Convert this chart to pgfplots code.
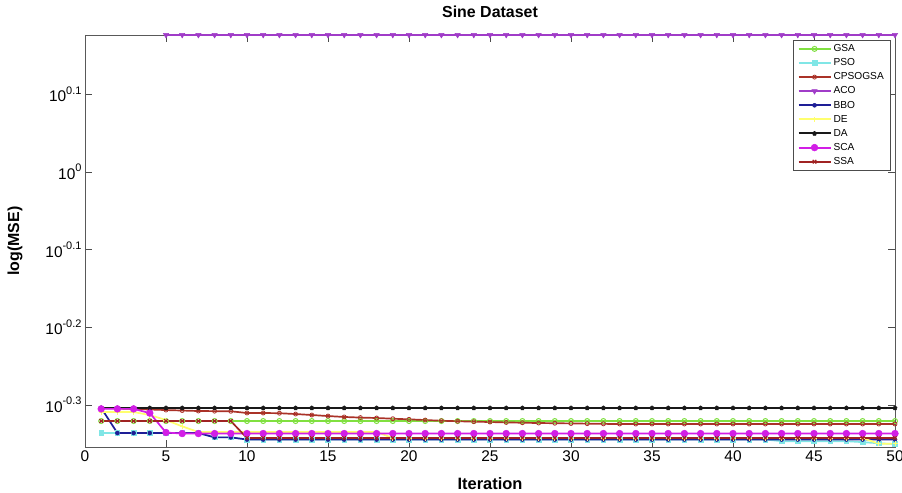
\documentclass[border=0pt]{standalone}
\usepackage{pgfplots}
\pgfplotsset{compat=1.18}
\usepackage{pgfplotstable}
\usepackage{fontspec}
\setmainfont{Liberation Sans}
\definecolor{cGSA}{RGB}{128,224,64}
\definecolor{cPSO}{RGB}{128,230,230}
\definecolor{cCPS}{RGB}{170,50,40}
\definecolor{cACO}{RGB}{160,60,200}
\definecolor{cBBO}{RGB}{30,30,150}
\definecolor{cDE}{RGB}{255,255,110}
\definecolor{cDA}{RGB}{25,25,25}
\definecolor{cSCA}{RGB}{210,30,230}
\definecolor{cSSA}{RGB}{160,35,35}
\newcommand{\ex}[1]{10\raisebox{0.5em}{\fontsize{11}{11}\selectfont #1}}
\pgfplotstableread{
it GSA PSO CPS ACO BBO DE DA SCA SSA
1 0.4780 0.4613 0.4968 nan 0.4968 0.4909 0.4968 0.4955 0.4780
2 0.4780 0.4613 0.4961 nan 0.4613 0.4909 0.4968 0.4955 0.4780
3 0.4780 0.4613 0.4953 nan 0.4613 0.4909 0.4968 0.4955 0.4780
4 0.4780 0.4613 0.4946 nan 0.4613 0.4866 0.4968 0.4894 0.4780
5 0.4780 0.4613 0.4938 1.5 0.4613 0.4794 0.4968 0.4620 0.4780
6 0.4780 0.4613 0.4931 1.5 0.4613 0.4705 0.4968 0.4606 0.4780
7 0.4780 0.4613 0.4924 1.5 0.4613 0.4627 0.4968 0.4606 0.4780
8 0.4780 0.4554 0.4922 1.5 0.4554 0.4627 0.4968 0.4606 0.4780
9 0.4780 0.4554 0.4920 1.5 0.4554 0.4627 0.4968 0.4606 0.4780
10 0.4780 0.4525 0.4895 1.5 0.4525 0.4627 0.4968 0.4606 0.4545
11 0.4780 0.4525 0.4895 1.5 0.4525 0.4627 0.4968 0.4606 0.4545
12 0.4780 0.4525 0.4892 1.5 0.4525 0.4627 0.4968 0.4606 0.4545
13 0.4780 0.4525 0.4880 1.5 0.4525 0.4627 0.4968 0.4606 0.4545
14 0.4780 0.4525 0.4866 1.5 0.4525 0.4627 0.4968 0.4606 0.4545
15 0.4780 0.4525 0.4851 1.5 0.4525 0.4627 0.4968 0.4606 0.4545
16 0.4780 0.4525 0.4838 1.5 0.4525 0.4627 0.4968 0.4606 0.4545
17 0.4780 0.4525 0.4829 1.5 0.4525 0.4627 0.4968 0.4606 0.4545
18 0.4780 0.4525 0.4823 1.5 0.4525 0.4627 0.4968 0.4606 0.4545
19 0.4780 0.4525 0.4813 1.5 0.4525 0.4545 0.4968 0.4606 0.4545
20 0.4780 0.4525 0.4804 1.5 0.4525 0.4545 0.4968 0.4606 0.4545
21 0.4780 0.4525 0.4794 1.5 0.4525 0.4545 0.4968 0.4606 0.4545
22 0.4780 0.4525 0.4784 1.5 0.4525 0.4545 0.4968 0.4606 0.4545
23 0.4780 0.4525 0.4777 1.5 0.4525 0.4545 0.4968 0.4606 0.4545
24 0.4780 0.4525 0.4771 1.5 0.4525 0.4545 0.4968 0.4606 0.4545
25 0.4780 0.4525 0.4766 1.5 0.4525 0.4545 0.4968 0.4606 0.4545
26 0.4780 0.4525 0.4760 1.5 0.4525 0.4545 0.4968 0.4606 0.4545
27 0.4780 0.4525 0.4756 1.5 0.4525 0.4545 0.4968 0.4606 0.4545
28 0.4780 0.4525 0.4752 1.5 0.4525 0.4545 0.4968 0.4606 0.4545
29 0.4780 0.4525 0.4749 1.5 0.4525 0.4545 0.4968 0.4606 0.4545
30 0.4780 0.4525 0.4746 1.5 0.4525 0.4545 0.4968 0.4606 0.4545
31 0.4780 0.4525 0.4743 1.5 0.4525 0.4545 0.4968 0.4606 0.4545
32 0.4780 0.4525 0.4740 1.5 0.4525 0.4545 0.4968 0.4606 0.4545
33 0.4780 0.4525 0.4738 1.5 0.4525 0.4545 0.4968 0.4606 0.4545
34 0.4780 0.4525 0.4738 1.5 0.4525 0.4545 0.4968 0.4606 0.4545
35 0.4780 0.4525 0.4738 1.5 0.4525 0.4545 0.4968 0.4606 0.4545
36 0.4780 0.4525 0.4738 1.5 0.4525 0.4545 0.4968 0.4606 0.4545
37 0.4780 0.4525 0.4738 1.5 0.4525 0.4545 0.4968 0.4606 0.4545
38 0.4780 0.4525 0.4738 1.5 0.4525 0.4545 0.4968 0.4606 0.4545
39 0.4780 0.4525 0.4738 1.5 0.4525 0.4545 0.4968 0.4606 0.4545
40 0.4780 0.4525 0.4738 1.5 0.4525 0.4545 0.4968 0.4606 0.4545
41 0.4780 0.4525 0.4738 1.5 0.4525 0.4545 0.4968 0.4606 0.4545
42 0.4780 0.4525 0.4738 1.5 0.4525 0.4545 0.4968 0.4606 0.4545
43 0.4780 0.4503 0.4738 1.5 0.4525 0.4545 0.4968 0.4606 0.4545
44 0.4780 0.4503 0.4738 1.5 0.4525 0.4545 0.4968 0.4606 0.4545
45 0.4780 0.4503 0.4738 1.5 0.4525 0.4545 0.4968 0.4606 0.4545
46 0.4780 0.4503 0.4738 1.5 0.4525 0.4545 0.4968 0.4606 0.4545
47 0.4780 0.4503 0.4738 1.5 0.4525 0.4545 0.4968 0.4606 0.4545
48 0.4780 0.4490 0.4738 1.5 0.4525 0.4545 0.4968 0.4606 0.4545
49 0.4780 0.4475 0.4738 1.5 0.4525 0.4470 0.4968 0.4606 0.4545
50 0.4780 0.4465 0.4738 1.5 0.4525 0.4470 0.4968 0.4606 0.4545
}\datatable
\begin{document}
\begin{tikzpicture}
\begin{axis}[
  name=ax,
  width=810bp, height=412bp, scale only axis,
  ymode=log,
  xmin=0, xmax=50, ymin=0.4426, ymax=1.5,
  clip=false,
  xtick={0,5,...,50},
  ytick={0.501187,0.630957,0.794328,1,1.258925},
  yticklabels={\ex{-0.3},\ex{-0.2},\ex{-0.1},\ex{0},\ex{0.1}},
  yminorticks=false,
  tick align=inside,
  major tick length=7bp,
  axis line style={draw=black!65, line width=0.6bp},
  every tick/.style={draw=black!70, line width=0.6bp},
  /pgf/number format/assume math mode=true,
  ticklabel style={font=\fontsize{15.5}{15.5}\selectfont},
  title={Sine Dataset},
  title style={font=\bfseries\fontsize{16}{16}\selectfont, at={(axis description cs:0.5,1.041)}, anchor=center},
  xlabel={Iteration},
  xlabel style={font=\bfseries\fontsize{16.5}{17}\selectfont, at={(axis description cs:0.5,-0.0898)}, anchor=center},
  ylabel={log(MSE)},
  ylabel style={font=\bfseries\fontsize{16}{16}\selectfont, at={(axis description cs:-0.0864,0.5)}, anchor=center},
  legend cell align=left,
  legend style={at={(rel axis cs:0.9938,0.988)}, anchor=north east,
    draw=black!70, inner xsep=4bp, inner ysep=2bp,
    font=\fontsize{10.2}{10}\selectfont, row sep=0.6bp,
    nodes={inner sep=2bp, text height=7.5bp, text depth=2bp}},
  legend image code/.code={\draw[line width=2bp, mark repeat=2,mark phase=2] plot coordinates {(0bp,0bp) (16bp,0bp) (32bp,0bp)};},
]
\addplot[color=cGSA, line width=1.7bp, mark=o, mark size=2.5bp, mark options={line width=1bp}] table[x=it,y=GSA] {\datatable};
\addlegendentry{GSA}
\addplot[color=cPSO, line width=1.7bp, mark=square*, mark size=2.3bp, mark options={line width=0.5bp}] table[x=it,y=PSO] {\datatable};
\addlegendentry{PSO}
\addplot[color=cCPS, line width=1.7bp, mark=o, mark size=2bp, mark options={fill=orange!60, line width=0.8bp}] table[x=it,y=CPS] {\datatable};
\addlegendentry{CPSOGSA}
\addplot[color=cACO, line width=1.7bp, mark=triangle*, mark size=3bp, mark options={rotate=180, line width=0.5bp}] table[x=it,y=ACO] {\datatable};
\addlegendentry{ACO}
\addplot[color=cBBO, line width=1.7bp, mark=*, mark size=2bp, mark options={line width=0.5bp}] table[x=it,y=BBO] {\datatable};
\addlegendentry{BBO}
\addplot[color=cDE, line width=1.7bp, mark=+, mark size=2.5bp, mark options={line width=1bp}] table[x=it,y=DE] {\datatable};
\addlegendentry{DE}
\addplot[color=cDA, line width=1.7bp, mark=pentagon*, mark size=2.2bp, mark options={line width=0.5bp}] table[x=it,y=DA] {\datatable};
\addlegendentry{DA}
\addplot[color=cSCA, line width=1.7bp, mark=*, mark size=3.4bp, mark options={line width=0.5bp}] table[x=it,y=SCA] {\datatable};
\addlegendentry{SCA}
\addplot[color=cSSA, line width=1.7bp, mark=x, mark size=2.5bp, mark options={line width=1.2bp}] table[x=it,y=SSA] {\datatable};
\addlegendentry{SSA}
\end{axis}
\pgfresetboundingbox
\path[use as bounding box] ([xshift=-85bp,yshift=-46bp]ax.south west) rectangle ([xshift=7bp,yshift=35bp]ax.north east);
\end{tikzpicture}
\end{document}
